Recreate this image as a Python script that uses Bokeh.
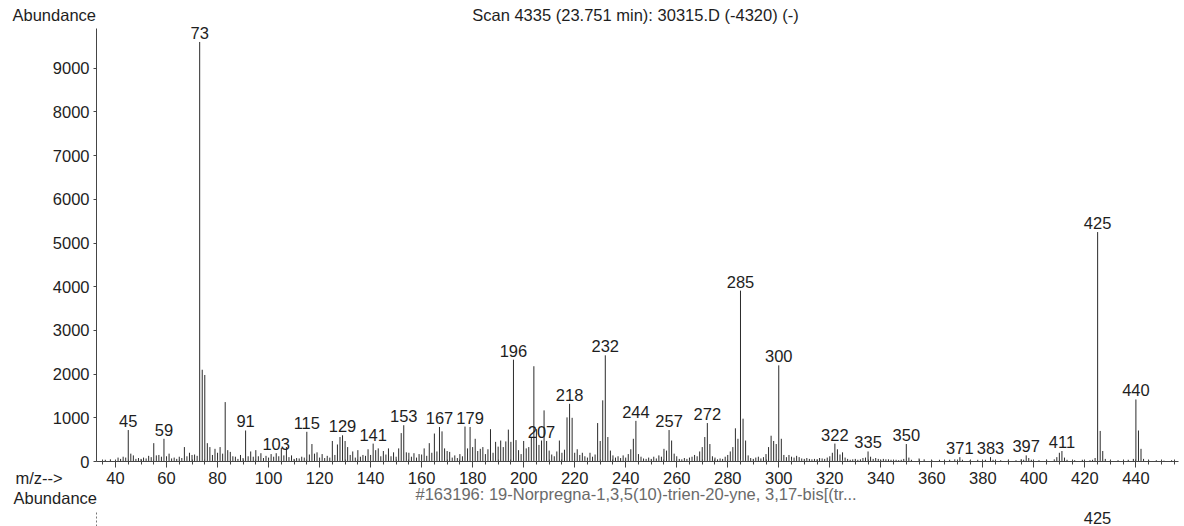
from bokeh.plotting import figure
from bokeh.models import (Range1d, SingleIntervalTicker, Label, LabelSet,
                          ColumnDataSource, LinearAxis)
from bokeh.core.properties import value
from bokeh.embed import file_html
from bokeh.resources import INLINE

# ---- data (m/z, abundance) ----
mz = [36, 38, 41, 42, 43, 44, 45, 46, 47, 48, 49, 50, 51, 52, 53, 54, 55, 56, 57, 58,
      59, 60, 61, 62, 63, 64, 65, 66, 67, 68, 69, 70, 71, 72, 73, 74, 75, 76, 77, 78,
      79, 80, 81, 82, 83, 84, 85, 86, 87, 88, 89, 90, 91, 92, 93, 94, 95, 96, 97, 98,
      99, 100, 101, 102, 103, 104, 105, 106, 107, 108, 109, 110, 111, 112, 113, 114, 115, 116, 117, 118,
      119, 120, 121, 122, 123, 124, 125, 126, 127, 128, 129, 130, 131, 132, 133, 134, 135, 136, 137, 138,
      139, 140, 141, 142, 143, 144, 145, 146, 147, 148, 149, 150, 151, 152, 153, 154, 155, 156, 157, 158,
      159, 160, 161, 162, 163, 164, 165, 166, 167, 168, 169, 170, 171, 172, 173, 174, 175, 176, 177, 178,
      179, 180, 181, 182, 183, 184, 185, 186, 187, 188, 189, 190, 191, 192, 193, 194, 195, 196, 197, 198,
      199, 200, 201, 202, 203, 204, 205, 206, 207, 208, 209, 210, 211, 212, 213, 214, 215, 216, 217, 218,
      219, 220, 221, 222, 223, 224, 225, 226, 227, 228, 229, 230, 231, 232, 233, 234, 235, 236, 237, 238,
      239, 240, 241, 242, 243, 244, 245, 246, 247, 248, 249, 250, 251, 252, 253, 254, 255, 256, 257, 258,
      259, 260, 261, 262, 263, 264, 265, 266, 267, 268, 269, 270, 271, 272, 273, 274, 275, 276, 277, 278,
      279, 280, 281, 282, 283, 284, 285, 286, 287, 288, 289, 290, 291, 292, 293, 294, 295, 296, 297, 298,
      299, 300, 301, 302, 303, 304, 305, 306, 307, 308, 309, 310, 311, 312, 313, 314, 315, 316, 317, 318,
      319, 320, 321, 322, 323, 324, 325, 326, 327, 328, 329, 330, 331, 332, 333, 334, 335, 336, 337, 338,
      339, 340, 341, 342, 343, 344, 345, 346, 347, 348, 349, 350, 351, 352, 355, 357, 360, 363, 365, 367,
      369, 371, 372, 375, 378, 381, 383, 384, 387, 390, 393, 395, 396, 397, 398, 399, 402, 405, 408, 409,
      410, 411, 412, 413, 416, 419, 422, 423, 424, 425, 426, 427, 428, 430, 433, 437, 439, 440, 441, 442,
      443, 445, 448, 451, 454]
abundance = [40, 50, 90, 60, 110, 90, 720, 180, 140, 60, 80, 60, 90, 70, 130, 100, 420, 140, 150, 110,
             520, 120, 180, 70, 90, 60, 110, 80, 330, 120, 200, 150, 160, 130, 9600, 2100, 1980, 420, 330, 150,
             290, 200, 330, 180, 1360, 260, 220, 120, 110, 60, 150, 80, 710, 120, 230, 110, 260, 120, 190, 80,
             130, 90, 170, 110, 190, 120, 310, 140, 330, 100, 140, 60, 80, 70, 110, 90, 680, 160, 400, 180,
             210, 90, 170, 80, 130, 90, 470, 150, 390, 560, 600, 470, 330, 150, 230, 90, 260, 110, 150, 130,
             280, 150, 410, 260, 300, 120, 240, 160, 300, 120, 210, 110, 300, 650, 830, 210, 200, 110, 190, 90,
             170, 160, 300, 130, 420, 200, 640, 230, 790, 690, 300, 240, 220, 90, 140, 80, 170, 120, 800, 300,
             790, 330, 520, 240, 290, 330, 170, 280, 740, 200, 450, 340, 480, 330, 460, 730, 450, 2330, 490, 260,
             170, 470, 300, 330, 560, 2180, 740, 380, 480, 1170, 470, 250, 160, 120, 230, 480, 200, 270, 1010, 1320,
             1000, 200, 280, 150, 200, 120, 90, 200, 110, 160, 880, 470, 1400, 2430, 560, 250, 140, 90, 120, 80,
             140, 90, 170, 280, 520, 930, 170, 110, 70, 60, 90, 60, 110, 70, 140, 110, 290, 250, 720, 480,
             180, 120, 60, 50, 80, 60, 90, 110, 150, 120, 230, 330, 560, 880, 400, 120, 90, 50, 70, 60,
             110, 150, 230, 330, 760, 520, 3910, 980, 480, 140, 80, 60, 90, 110, 70, 100, 170, 330, 590, 470,
             400, 2200, 520, 150, 100, 150, 110, 90, 130, 100, 70, 60, 80, 60, 50, 60, 50, 80, 70, 60,
             90, 120, 200, 410, 280, 160, 210, 90, 60, 40, 50, 60, 40, 50, 80, 90, 230, 110, 60, 80,
             60, 40, 60, 50, 50, 40, 30, 40, 30, 40, 60, 400, 90, 40, 70, 50, 30, 40, 30, 40,
             50, 100, 40, 30, 40, 40, 100, 40, 30, 40, 30, 50, 40, 140, 80, 40, 30, 40, 50, 100,
             200, 240, 90, 40, 30, 40, 30, 40, 80, 5250, 700, 240, 60, 30, 30, 40, 60, 1420, 710, 290,
             60, 30, 30, 20, 30]

labelled = [45, 59, 73, 91, 103, 115, 129, 141, 153, 167, 179, 196, 207, 218, 232, 244,
            257, 272, 285, 300, 322, 335, 350, 371, 383, 397, 411, 425, 440]

x_tick_interval = 20
y_tick_interval = 1000
x_axis_span = (32.55, 456.7)
y_axis_span = (0, 9910)

title_text = "Scan 4335 (23.751 min): 30315.D (-4320) (-)"
library_text = "#163196: 19-Norpregna-1,3,5(10)-trien-20-yne, 3,17-bis[(tr..."
library_peak = "425"

FONT = "Liberation Sans"
FS = "16.5px"
INK = "#1e1e1e"
AXC = "#454545"

peak_of = dict(zip(mz, abundance))
lab_src = ColumnDataSource(dict(
    x=labelled,
    y=[peak_of[m] for m in labelled],
    t=[str(m) for m in labelled],
))

# frame covers the whole canvas; axes are pinned inside it with fixed_location
p = figure(width=1184, height=526, output_backend="svg", toolbar_location=None,
           x_range=Range1d(-5.08, 459.05), y_range=Range1d(-1487, 10549),
           x_axis_location=None, y_axis_location=None,
           min_border=0, min_border_left=0, min_border_right=0,
           min_border_top=0, min_border_bottom=0)
p.outline_line_color = None
p.xgrid.visible = False
p.ygrid.visible = False
p.background_fill_color = "white"
p.border_fill_color = "white"

p.segment(x0=mz, y0=[0] * len(mz), x1=mz, y1=abundance,
          line_color="#2b2b2b", line_width=1)

labels = LabelSet(x="x", y="y", text="t", source=lab_src,
                  text_align="center", text_baseline="alphabetic", y_offset=3,
                  text_font=value(FONT), text_font_size=value(FS), text_color=INK)
p.add_layout(labels)

xax = LinearAxis(fixed_location=0, bounds=x_axis_span,
                 ticker=SingleIntervalTicker(interval=x_tick_interval, num_minor_ticks=4))
yax = LinearAxis(fixed_location=x_axis_span[0], bounds=y_axis_span,
                 ticker=SingleIntervalTicker(interval=y_tick_interval, num_minor_ticks=0))
for ax in (xax, yax):
    ax.axis_line_color = AXC
    ax.major_tick_line_color = AXC
    ax.minor_tick_line_color = AXC
    ax.major_label_text_font = FONT
    ax.major_label_text_font_size = FS
    ax.major_label_text_color = INK
xax.major_tick_out = 6
xax.major_tick_in = 0
xax.minor_tick_out = 3
xax.minor_tick_in = 2
xax.major_label_standoff = 4
yax.major_tick_out = 3
yax.major_tick_in = 0
yax.minor_tick_out = 0
yax.minor_tick_in = 0
yax.major_label_standoff = 4
p.add_layout(xax, "below")
p.add_layout(yax, "left")

# y axis of the library spectrum below (only its top is visible)
yax2 = LinearAxis(fixed_location=x_axis_span[0], bounds=(-1487, -1120),
                  ticker=SingleIntervalTicker(interval=100000),
                  axis_line_color="#777777", axis_line_dash="2 2",
                  major_tick_line_color=None, minor_tick_line_color=None,
                  major_label_text_font_size="0px")
p.add_layout(yax2, "left")

def txt(s, x, y, align="left", color=INK):
    p.add_layout(Label(x=x, y=y, x_units="screen", y_units="screen", text=s,
                       text_align=align, text_baseline="alphabetic",
                       text_font=FONT, text_font_size=FS, text_color=color))

txt("Abundance", 12, 511.5)
txt(title_text, 635, 511.5, align="center")
txt("m/z-->", 15, 49)
txt("Abundance", 13, 29)
txt(library_text, 415, 33, color="#6a6a6a")
txt(library_peak, 1097, 9, align="center")

open("out.html", "w").write(file_html(p, INLINE))
